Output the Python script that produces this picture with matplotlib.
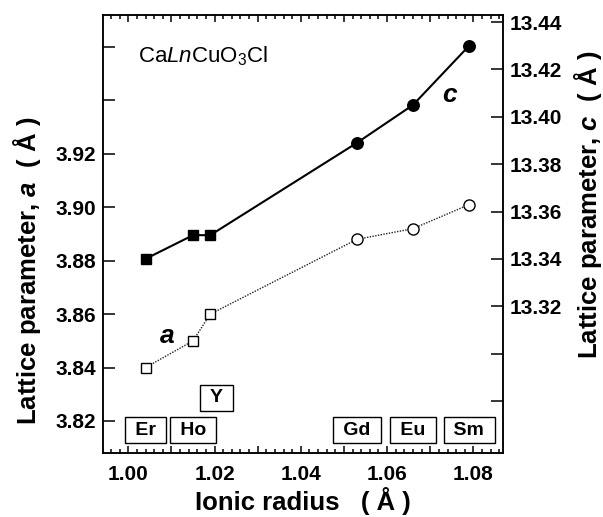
import numpy as np
import matplotlib
matplotlib.use("Agg")
import matplotlib.pyplot as plt
from matplotlib.ticker import MultipleLocator, FixedLocator, FuncFormatter

plt.rcParams['font.family'] = ['Liberation Sans', 'DejaVu Sans']
plt.rcParams['mathtext.fontset'] = 'custom'
plt.rcParams['mathtext.rm'] = 'Liberation Sans'
plt.rcParams['mathtext.it'] = 'Liberation Sans:italic'
plt.rcParams['mathtext.bf'] = 'Liberation Sans:bold'
plt.rcParams['mathtext.bfit'] = 'Liberation Sans:italic:bold'

# data
elements = ['Er', 'Ho', 'Y', 'Gd', 'Eu', 'Sm']
radius = [1.004, 1.015, 1.019, 1.053, 1.066, 1.079]
a_param = [3.840, 3.850, 3.860, 3.888, 3.892, 3.901]
c_param = [13.340, 13.350, 13.350, 13.389, 13.405, 13.430]

left_ticks = [3.82, 3.84, 3.86, 3.88, 3.90, 3.92, 3.94, 3.96]
right_ticks = [13.28, 13.30, 13.32, 13.34, 13.36, 13.38, 13.40, 13.42, 13.44]

tick_fs = 15
label_fs = 18.5
lw_axis = 1.1

fig = plt.figure(figsize=(6.03, 5.17), dpi=100)
ax = fig.add_axes([0.1708, 0.1238, 0.6629, 0.8472])
ax2 = ax.twinx()

nsq = 3  # Er, Ho, Y are squares; Gd, Eu, Sm circles

# a (left axis), open symbols, dotted line
ax.plot(radius, a_param, color='#222222', linestyle=(0, (1, 1)), linewidth=1.0, zorder=2)
ax.plot(radius[:nsq], a_param[:nsq], 's', ms=7.5, mfc='white', mec='black', mew=1.0, zorder=3)
ax.plot(radius[nsq:], a_param[nsq:], 'o', ms=8, mfc='white', mec='black', mew=1.0, zorder=3)

# c (right axis), filled symbols, solid line
ax2.plot(radius, c_param, color='black', linewidth=1.5, zorder=2)
ax2.plot(radius[:nsq], c_param[:nsq], 's', ms=7.8, mfc='black', mec='black', zorder=3)
ax2.plot(radius[nsq:], c_param[nsq:], 'o', ms=8.3, mfc='black', mec='black', zorder=3)

ax.set_xlim(0.99413, 1.0868)
ax.set_ylim(3.808, 3.972)
ax2.set_ylim(13.258, 13.443)

# x axis ticks
ax.xaxis.set_major_locator(MultipleLocator(0.01))
ax.xaxis.set_minor_locator(MultipleLocator(0.002))
ax.xaxis.set_major_formatter(FuncFormatter(
    lambda v, p: '%.2f' % v if int(round(v * 100)) % 2 == 0 else ''))
ax.tick_params(axis='x', which='major', direction='in', length=5, width=lw_axis,
               top=True, pad=9, labelsize=tick_fs)
ax.tick_params(axis='x', which='minor', direction='in', length=3, width=lw_axis, top=True)

# left axis ticks
ax.yaxis.set_major_locator(FixedLocator(left_ticks))
ax.yaxis.set_major_formatter(FuncFormatter(lambda v, p: '%.2f' % v if v < 3.93 else ''))
ax.tick_params(axis='y', direction='in', length=8.5, width=lw_axis, right=False,
               pad=5, labelsize=tick_fs)

# right axis ticks
ax2.yaxis.set_major_locator(FixedLocator(right_ticks))
ax2.yaxis.set_major_formatter(FuncFormatter(lambda v, p: '%.2f' % v if v > 13.31 else ''))
ax2.tick_params(axis='y', direction='in', length=8.5, width=lw_axis,
                pad=5, labelsize=tick_fs)

for t in ax.get_xticklabels() + ax.get_yticklabels() + ax2.get_yticklabels():
    t.set_fontweight('bold')

for a_ in (ax, ax2):
    for s in a_.spines.values():
        s.set_linewidth(lw_axis)

# element boxes
box_y = [3.8166, 3.8166, 3.8286, 3.8166, 3.8166, 3.8166]
box_dx = [0, 0, 0.0015, 0, 0, 0]
for name, x, y, dx in zip(elements, radius, box_y, box_dx):
    ax.text(x + dx, y, ' ' + name + ' ', fontsize=14, fontweight='bold',
            ha='center', va='center', zorder=4,
            bbox=dict(boxstyle='square,pad=0.25', fc='white', ec='black', lw=1.0))

ax.text(0.087, 0.905, 'Ca$\\mathit{Ln}$CuO$_3$Cl', transform=ax.transAxes,
        fontsize=16, ha='left', va='center')
ax.text(1.0746, 3.9421, '$\\mathbfit{c}$', fontsize=19, ha='center', va='center')
ax.text(1.0089, 3.8518, '$\\mathbfit{a}$', fontsize=19, ha='center', va='center')

fig.text(0.0448, 0.4758, 'Lattice parameter, $\\mathbfit{a}$  ( Å )', rotation=90,
         fontsize=label_fs, fontweight='bold', ha='center', va='center')
fig.text(0.975, 0.6035, 'Lattice parameter, $\\mathbfit{c}$  ( Å )', rotation=90,
         fontsize=label_fs, fontweight='bold', ha='center', va='center')
fig.text(0.5025, 0.030, 'Ionic radius   ( Å )', fontsize=label_fs, fontweight='bold',
         ha='center', va='center')

fig.savefig('out.png', dpi=100)
